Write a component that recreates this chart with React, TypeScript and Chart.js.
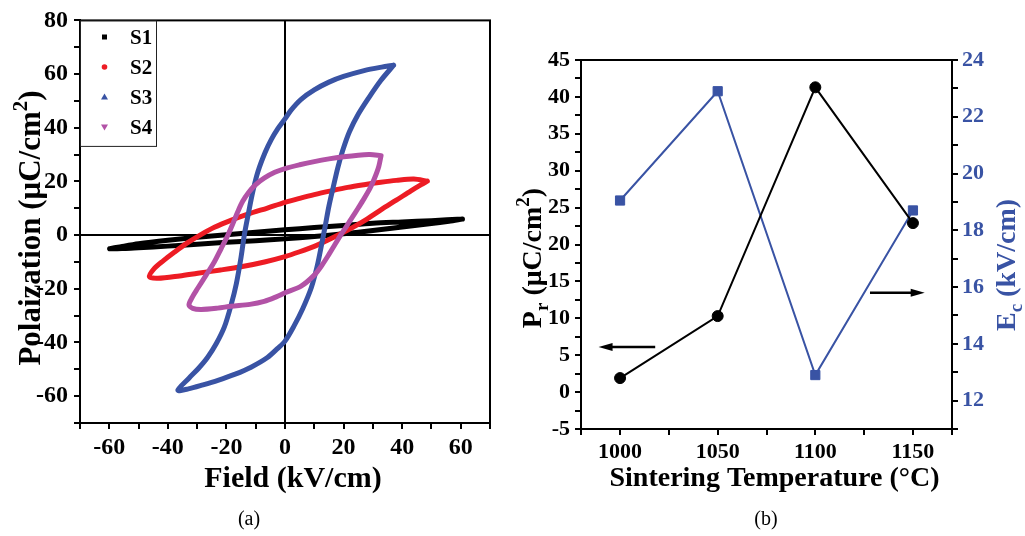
import React, { useEffect, useRef } from 'react';
import { Chart, registerables } from 'chart.js';

Chart.register(...registerables);

const SERIF = '"Liberation Serif", "Times New Roman", serif';
const BLUE = '#3953A4';

// ---------------- Panel (a): P–E hysteresis loops ----------------
const s1Field = [60.6, 50, 40, 30, 20, 10, 0, -10, -20, -30, -40, -50, -56, -59.9, -55, -50, -40, -30, -20, -10, 0, 10, 20, 30, 40, 50, 56, 60.6];
const s1Pol = [6.0, 5.4, 4.9, 4.4, 3.6, 2.8, 2.0, 1.1, 0.1, -0.8, -1.9, -3.2, -4.3, -5.1, -5.0, -4.7, -4.1, -3.4, -2.7, -2.1, -1.4, -0.5, 0.5, 1.7, 3.0, 4.3, 5.2, 6.0];

const s2Field = [48.6, 44, 38, 32.7, 27, 21.4, 15.7, 10, 5, 0, -6, -12.7, -18.5, -24.1, -29, -33.5, -37.7, -41.5, -44.6, -46.3, -43.4, -36, -29.8, -22, -15, -7, 0, 5, 10, 14, 18.5, 23, 28, 33, 38, 43, 46.5, 48.6];
const s2Pol = [20.1, 20.9, 20.4, 19.7, 18.8, 17.8, 16.5, 15.1, 13.7, 12.2, 10.1, 7.8, 5.5, 2.9, 0, -3, -6.3, -9.5, -12.4, -15.5, -16.1, -15.2, -14.2, -13, -11.8, -10, -8, -6.2, -4.2, -2.2, 0.2, 2.8, 6, 9.6, 13, 16.5, 18.8, 20.1];

const s3Field = [37.1, 33, 27, 20, 15, 10, 5.5, 2, 0, -2.5, -4.7, -6.8, -9.2, -11, -12.6, -13.9, -15, -16.6, -18.4, -20.7, -23.5, -26.4, -29.5, -32.8, -36.6, -33, -28, -22.9, -17, -11.6, -6, -2.5, 0, 3, 6, 9, 11, 12.5, 13.8, 15, 16.5, 18, 19.7, 22, 25, 28.5, 32.7, 37.1];
const s3Pol = [63.3, 62.6, 61.3, 59.1, 57, 54.1, 50.6, 46.5, 43.3, 39.6, 35.6, 30.8, 23.8, 16.2, 7.5, 0, -8.2, -18, -26, -34.2, -40.5, -45.5, -49.6, -53.3, -57.8, -57.3, -55.8, -54.1, -51.8, -49.2, -45.6, -42.2, -39.5, -34, -27.5, -19.5, -11.5, -3.5, 3.8, 10.8, 18, 25, 31.5, 38.5, 45, 51, 57.6, 63.3];

const s4Field = [32.8, 29, 25, 20, 15, 10, 5, 0, -3.5, -7, -10, -12.5, -14.5, -16.2, -17.9, -19.5, -21.8, -24.1, -27, -29.8, -31.6, -32.8, -31.5, -28.6, -23, -18.4, -12, -7.1, -3, 0, 5.5, 10, 12.5, 15, 17, 19, 21, 23, 25, 27, 29, 30.5, 32, 32.8];
const s4Pol = [29.6, 30, 29.8, 29.2, 28.4, 27.4, 26.2, 24.8, 23.4, 21.3, 18.8, 15.8, 12.5, 8.5, 4, 0, -5, -9.9, -15, -19.8, -23, -26, -27.3, -27.7, -27.2, -26.5, -25.8, -24.7, -23, -21.5, -19, -14.9, -11.4, -7.2, -3.6, 0, 3.3, 6.7, 10.1, 13.6, 17.4, 21, 25.5, 29.6];

const loopLabels = ['S1', 'S2', 'S3', 'S4'];
const loopColors = ['#000000', '#ED1C24', '#3953A4', '#B252A6'];
const loopMarkers = ['rect', 'circle', 'triangle', 'triangleDown'];

const fieldTicks = [-70, -60, -50, -40, -30, -20, -10, 0, 10, 20, 30, 40, 50, 60, 70];
const polTicks = [-70, -60, -50, -40, -30, -20, -10, 0, 10, 20, 30, 40, 50, 60, 70, 80];

// ---------------- Panel (b): Pr and Ec vs sintering temperature ----------------
const temperatures = [1000, 1050, 1100, 1150];
const remanentPol = [1.9, 10.3, 41.3, 22.9];
const coerciveField = [19.05, 22.9, 12.9, 18.7];

const tempTicks = [980, 1000, 1025, 1050, 1075, 1100, 1125, 1150, 1170];
const prTicks = [-5, -2.5, 0, 2.5, 5, 7.5, 10, 12.5, 15, 17.5, 20, 22.5, 25, 27.5, 30, 32.5, 35, 37.5, 40, 42.5, 45];
const ecTicks = [11, 12, 13, 14, 15, 16, 17, 18, 19, 20, 21, 22, 23, 24];

// arrow annotations (data units): which axis each curve belongs to
const prArrow = { from: 1018, to: 989, at: 6.1 };
const ecArrow = { from: 1128, to: 1156, at: 15.8 };

const toPoints = (xs: number[], ys: number[]) => xs.map((x, i) => ({ x, y: ys[i] }));

type Part = { t: string; k?: 'sup' | 'sub' };

function drawRich(ctx: CanvasRenderingContext2D, cx: number, cy: number, angle: number, parts: Part[], size: number, color: string, weight = 'bold') {
  ctx.save();
  ctx.translate(cx, cy);
  ctx.rotate(angle);
  ctx.fillStyle = color;
  ctx.textBaseline = 'alphabetic';
  ctx.textAlign = 'left';
  const fontFor = (p: Part) => `${weight} ${p.k ? Math.round(size * 0.68) : size}px ${SERIF}`;
  let total = 0;
  const widths = parts.map((p) => {
    ctx.font = fontFor(p);
    const w = ctx.measureText(p.t).width;
    total += w;
    return w;
  });
  let x = -total / 2;
  const base = size * 0.33;
  parts.forEach((p, i) => {
    ctx.font = fontFor(p);
    const dy = p.k === 'sup' ? -size * 0.42 : p.k === 'sub' ? size * 0.24 : 0;
    ctx.fillText(p.t, x, base + dy);
    x += widths[i];
  });
  ctx.restore();
}

function drawMarker(ctx: CanvasRenderingContext2D, kind: string, x: number, y: number, color: string) {
  ctx.save();
  ctx.fillStyle = color;
  ctx.beginPath();
  if (kind === 'rect') {
    ctx.rect(x - 2.5, y - 2.5, 5, 5);
  } else if (kind === 'circle') {
    ctx.arc(x, y, 2.8, 0, Math.PI * 2);
  } else if (kind === 'triangle') {
    ctx.moveTo(x, y - 3.5);
    ctx.lineTo(x + 3.5, y + 2.5);
    ctx.lineTo(x - 3.5, y + 2.5);
    ctx.closePath();
  } else {
    ctx.moveTo(x, y + 3.5);
    ctx.lineTo(x + 3.5, y - 2.5);
    ctx.lineTo(x - 3.5, y - 2.5);
    ctx.closePath();
  }
  ctx.fill();
  ctx.restore();
}

function drawArrow(ctx: CanvasRenderingContext2D, x1: number, y1: number, x2: number, y2: number) {
  const dir = Math.sign(x2 - x1);
  const headLen = 14;
  const headHalf = 4;
  ctx.save();
  ctx.strokeStyle = '#000';
  ctx.fillStyle = '#000';
  ctx.lineWidth = 2.5;
  ctx.beginPath();
  ctx.moveTo(x1, y1);
  ctx.lineTo(x2 - dir * headLen + dir * 2, y2);
  ctx.stroke();
  ctx.beginPath();
  ctx.moveTo(x2, y2);
  ctx.lineTo(x2 - dir * headLen, y2 - headHalf);
  ctx.lineTo(x2 - dir * headLen, y2 + headHalf);
  ctx.closePath();
  ctx.fill();
  ctx.restore();
}

function drawBox(chart: any) {
  const { ctx, chartArea: a } = chart;
  ctx.save();
  ctx.strokeStyle = '#000';
  ctx.lineWidth = 2;
  ctx.strokeRect(a.left, a.top, a.right - a.left, a.bottom - a.top);
  ctx.restore();
}

function drawCaption(ctx: CanvasRenderingContext2D, text: string, x: number, y: number) {
  ctx.save();
  ctx.fillStyle = '#000';
  ctx.font = `normal 20px ${SERIF}`;
  ctx.textAlign = 'center';
  ctx.textBaseline = 'alphabetic';
  ctx.fillText(text, x, y);
  ctx.restore();
}

const tickFont = (size: number) => ({ family: SERIF, size, weight: 'bold' as const });

const panelAPlugin = {
  id: 'panelADecor',
  beforeDatasetsDraw(chart: any) {
    const { ctx, chartArea: a, scales } = chart;
    const x0 = scales.x.getPixelForValue(0);
    const y0 = scales.y.getPixelForValue(0);
    ctx.save();
    ctx.strokeStyle = '#000';
    ctx.lineWidth = 2;
    ctx.beginPath();
    ctx.moveTo(x0, a.top);
    ctx.lineTo(x0, a.bottom);
    ctx.moveTo(a.left, y0);
    ctx.lineTo(a.right, y0);
    ctx.stroke();
    ctx.restore();
  },
  afterDatasetsDraw(chart: any) {
    drawBox(chart);
  },
  afterDraw(chart: any) {
    const { ctx, chartArea: a } = chart;
    // legend
    const lx = a.left;
    const ly = a.top;
    const lw = 76;
    const lh = 125.5;
    ctx.save();
    ctx.fillStyle = '#fff';
    ctx.fillRect(lx + 1, ly + 1, lw - 1, lh - 1);
    ctx.strokeStyle = '#222';
    ctx.lineWidth = 1;
    ctx.strokeRect(lx + 0.5, ly + 0.5, lw, lh);
    ctx.restore();
    const rows = [37, 67, 97, 127];
    loopLabels.forEach((lab, i) => {
      drawMarker(ctx, loopMarkers[i], lx + 24.5, rows[i], loopColors[i]);
      ctx.save();
      ctx.fillStyle = '#000';
      ctx.font = `bold 21px ${SERIF}`;
      ctx.textAlign = 'left';
      ctx.textBaseline = 'alphabetic';
      ctx.fillText(lab, lx + 50, rows[i] + 7);
      ctx.restore();
    });
    // axis titles
    drawRich(ctx, 293, 477, 0, [{ t: 'Field (kV/cm)' }], 30, '#000');
    drawRich(ctx, 30, 228, -Math.PI / 2, [{ t: 'Polaization (μC/cm' }, { t: '2', k: 'sup' }, { t: ')' }], 31, '#000');
    drawCaption(ctx, '(a)', 249, 525);
  },
};

const panelBPlugin = {
  id: 'panelBDecor',
  afterDatasetsDraw(chart: any) {
    drawBox(chart);
    const { ctx, scales } = chart;
    const ya = scales.y.getPixelForValue(prArrow.at);
    drawArrow(ctx, scales.x.getPixelForValue(prArrow.from), ya, scales.x.getPixelForValue(prArrow.to), ya);
    const yb = scales.y1.getPixelForValue(ecArrow.at);
    drawArrow(ctx, scales.x.getPixelForValue(ecArrow.from), yb, scales.x.getPixelForValue(ecArrow.to), yb);
  },
  afterDraw(chart: any) {
    const { ctx } = chart;
    drawRich(ctx, 264.5, 477, 0, [{ t: 'Sintering Temperature (°C)' }], 28, '#000');
    drawRich(ctx, 22, 258, -Math.PI / 2, [{ t: 'P' }, { t: 'r', k: 'sub' }, { t: ' (μC/cm' }, { t: '2', k: 'sup' }, { t: ')' }], 28, '#000');
    drawRich(ctx, 496, 265, -Math.PI / 2, [{ t: 'E' }, { t: 'c', k: 'sub' }, { t: ' (kV/cm)' }], 28, BLUE);
    drawCaption(ctx, '(b)', 256, 525);
  },
};

function PanelA() {
  const ref = useRef<HTMLCanvasElement>(null);
  useEffect(() => {
    const loops = [
      [s1Field, s1Pol],
      [s2Field, s2Pol],
      [s3Field, s3Pol],
      [s4Field, s4Pol],
    ];
    const chart = new Chart(ref.current as HTMLCanvasElement, {
      type: 'scatter',
      data: {
        datasets: loops.map(([f, p], i) => ({
          label: loopLabels[i],
          data: toPoints(f, p),
          showLine: true,
          borderColor: loopColors[i],
          backgroundColor: loopColors[i],
          borderWidth: 5,
          pointRadius: 0,
          pointHoverRadius: 0,
          tension: 0.3,
          borderJoinStyle: 'round',
          borderCapStyle: 'round',
          order: 3 - i,
        })) as any,
      },
      options: {
        responsive: false,
        maintainAspectRatio: false,
        animation: false,
        events: [],
        layout: { padding: { top: 16, right: 20, left: 0, bottom: 0 } },
        plugins: { legend: { display: false }, tooltip: { enabled: false } },
        scales: {
          x: {
            type: 'linear',
            position: 'bottom',
            min: -70,
            max: 70,
            afterBuildTicks: (s: any) => {
              s.ticks = fieldTicks.map((v) => ({ value: v }));
            },
            afterFit: (s: any) => {
              s.height = 113;
            },
            ticks: {
              autoSkip: false,
              maxRotation: 0,
              padding: 4,
              color: '#000',
              font: tickFont(24),
              callback: (v: any) => (Number(v) % 20 === 0 ? String(v) : ''),
            },
            grid: { drawOnChartArea: false, drawTicks: true, tickLength: 6, color: '#000', lineWidth: 2 },
            border: { display: true, color: '#000', width: 2 },
          },
          y: {
            type: 'linear',
            position: 'left',
            min: -70,
            max: 80,
            afterBuildTicks: (s: any) => {
              s.ticks = polTicks.map((v) => ({ value: v }));
            },
            afterFit: (s: any) => {
              s.width = 80;
            },
            ticks: {
              autoSkip: false,
              padding: 6,
              color: '#000',
              font: tickFont(24),
              callback: (v: any) => (Number(v) % 20 === 0 ? String(v) : ''),
            },
            grid: { drawOnChartArea: false, drawTicks: true, tickLength: 6, color: '#000', lineWidth: 2 },
            border: { display: true, color: '#000', width: 2 },
          },
        },
      } as any,
      plugins: [panelAPlugin],
    });
    return () => chart.destroy();
  }, []);
  return <canvas ref={ref} width={510} height={536} style={{ position: 'absolute', left: 0, top: 0, width: 510, height: 536 }} />;
}

function PanelB() {
  const ref = useRef<HTMLCanvasElement>(null);
  useEffect(() => {
    const chart = new Chart(ref.current as HTMLCanvasElement, {
      type: 'scatter',
      data: {
        datasets: [
          {
            label: 'Pr',
            data: toPoints(temperatures, remanentPol),
            showLine: true,
            yAxisID: 'y',
            borderColor: '#000',
            backgroundColor: '#000',
            borderWidth: 2,
            pointStyle: 'circle',
            pointRadius: 5.5,
            pointBorderWidth: 1,
            pointBackgroundColor: '#000',
            pointBorderColor: '#000',
            tension: 0,
          },
          {
            label: 'Ec',
            data: toPoints(temperatures, coerciveField),
            showLine: true,
            yAxisID: 'y1',
            borderColor: BLUE,
            backgroundColor: BLUE,
            borderWidth: 2,
            pointStyle: 'rect',
            pointRadius: 6.5,
            pointBorderWidth: 1,
            pointBackgroundColor: BLUE,
            pointBorderColor: BLUE,
            tension: 0,
          },
        ] as any,
      },
      options: {
        responsive: false,
        maintainAspectRatio: false,
        animation: false,
        events: [],
        layout: { padding: { top: 60, right: 0, left: 0, bottom: 0 } },
        plugins: { legend: { display: false }, tooltip: { enabled: false } },
        scales: {
          x: {
            type: 'linear',
            position: 'bottom',
            min: 980,
            max: 1170,
            afterBuildTicks: (s: any) => {
              s.ticks = tempTicks.map((v) => ({ value: v }));
            },
            afterFit: (s: any) => {
              s.height = 107;
            },
            ticks: {
              autoSkip: false,
              maxRotation: 0,
              padding: 4,
              color: '#000',
              font: tickFont(22),
              callback: (v: any) => (Number(v) % 50 === 0 ? String(v) : ''),
            },
            grid: { drawOnChartArea: false, drawTicks: true, tickLength: 6, color: '#000', lineWidth: 2 },
            border: { display: true, color: '#000', width: 2 },
          },
          y: {
            type: 'linear',
            position: 'left',
            min: -5,
            max: 45,
            afterBuildTicks: (s: any) => {
              s.ticks = prTicks.map((v) => ({ value: v }));
            },
            afterFit: (s: any) => {
              s.width = 71;
            },
            ticks: {
              autoSkip: false,
              padding: 5,
              color: '#000',
              font: tickFont(22),
              callback: (v: any) => (Number(v) % 5 === 0 ? String(v) : ''),
            },
            grid: { drawOnChartArea: false, drawTicks: true, tickLength: 6, color: '#000', lineWidth: 2 },
            border: { display: true, color: '#000', width: 2 },
          },
          y1: {
            type: 'linear',
            position: 'right',
            min: 11,
            max: 24,
            afterBuildTicks: (s: any) => {
              s.ticks = ecTicks.map((v) => ({ value: v }));
            },
            afterFit: (s: any) => {
              s.width = 73;
            },
            ticks: {
              autoSkip: false,
              padding: 4,
              color: BLUE,
              font: tickFont(22),
              callback: (v: any) => (Number(v) % 2 === 0 ? String(v) : ''),
            },
            grid: { drawOnChartArea: false, drawTicks: true, tickLength: 6, color: '#000', lineWidth: 2 },
            border: { display: true, color: '#000', width: 2 },
          },
        },
      } as any,
      plugins: [panelBPlugin],
    });
    return () => chart.destroy();
  }, []);
  return <canvas ref={ref} width={515} height={536} style={{ position: 'absolute', left: 510, top: 0, width: 515, height: 536 }} />;
}

export default function App() {
  return (
    <div style={{ position: 'absolute', left: 0, top: 0, width: 1025, height: 536, background: '#fff', overflow: 'hidden' }}>
      <PanelA />
      <PanelB />
    </div>
  );
}
